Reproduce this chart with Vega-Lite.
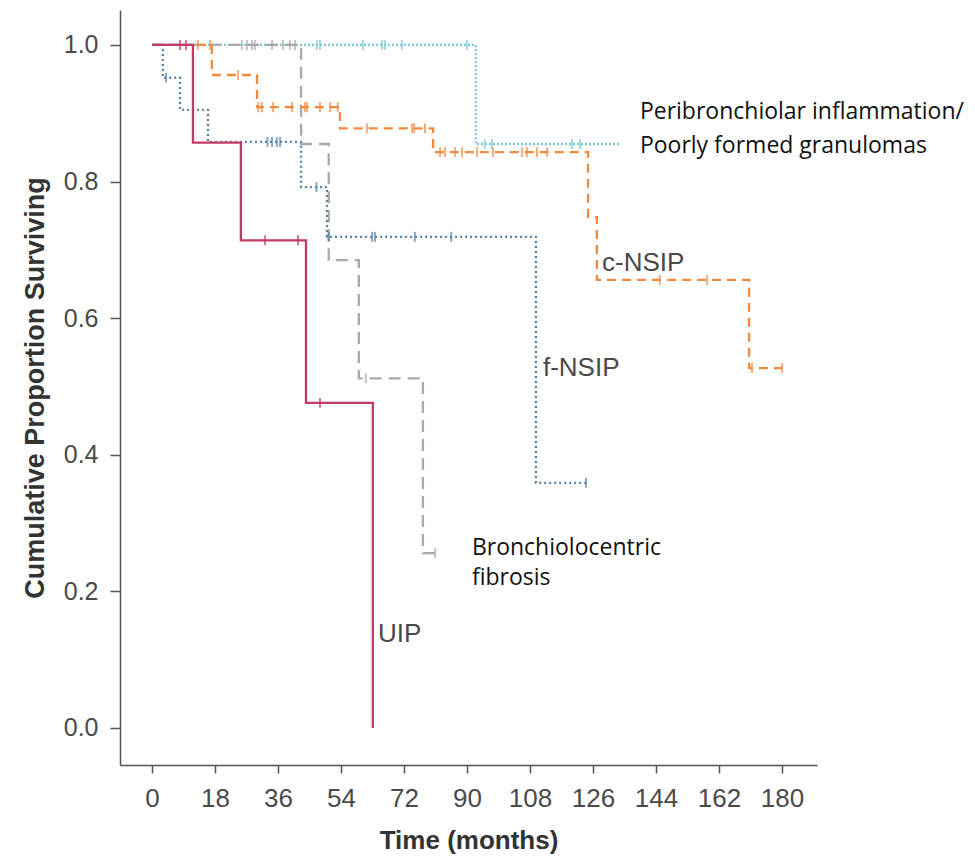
{
  "$schema": "https://vega.github.io/schema/vega-lite/v6.json",
  "width": 697,
  "height": 755,
  "autosize": {"type": "none"},
  "padding": {"left": 120, "top": 10, "right": 158, "bottom": 95},
  "background": "white",
  "config": {"view": {"stroke": null}},
  "datasets": {
    "curves": [
      {"group": "PB", "t": 0, "s": 1},
      {"group": "PB", "t": 92.5, "s": 0.855},
      {"group": "PB", "t": 133.7, "s": 0.855},
      {"group": "BF", "t": 0, "s": 1},
      {"group": "BF", "t": 42.6, "s": 0.855},
      {"group": "BF", "t": 50.5, "s": 0.685},
      {"group": "BF", "t": 59.1, "s": 0.512},
      {"group": "BF", "t": 77.4, "s": 0.256},
      {"group": "BF", "t": 81.4, "s": 0.256},
      {"group": "c-NSIP", "t": 0, "s": 1},
      {"group": "c-NSIP", "t": 17.1, "s": 0.956},
      {"group": "c-NSIP", "t": 30, "s": 0.909},
      {"group": "c-NSIP", "t": 53.7, "s": 0.878},
      {"group": "c-NSIP", "t": 80.3, "s": 0.843},
      {"group": "c-NSIP", "t": 124.6, "s": 0.748},
      {"group": "c-NSIP", "t": 127.1, "s": 0.656},
      {"group": "c-NSIP", "t": 170.6, "s": 0.527},
      {"group": "c-NSIP", "t": 180, "s": 0.527},
      {"group": "f-NSIP", "t": 0, "s": 1},
      {"group": "f-NSIP", "t": 3.1, "s": 0.952},
      {"group": "f-NSIP", "t": 8, "s": 0.905},
      {"group": "f-NSIP", "t": 16, "s": 0.858},
      {"group": "f-NSIP", "t": 42.6, "s": 0.792},
      {"group": "f-NSIP", "t": 50, "s": 0.719},
      {"group": "f-NSIP", "t": 109.7, "s": 0.359},
      {"group": "f-NSIP", "t": 124, "s": 0.359},
      {"group": "UIP", "t": 0, "s": 1},
      {"group": "UIP", "t": 11.7, "s": 0.857},
      {"group": "UIP", "t": 25.4, "s": 0.714},
      {"group": "UIP", "t": 44, "s": 0.476},
      {"group": "UIP", "t": 63.1, "s": 0}
    ],
    "censor": [
      {"group": "PB", "t": 47.1, "s": 1},
      {"group": "PB", "t": 48, "s": 1},
      {"group": "PB", "t": 60.3, "s": 1},
      {"group": "PB", "t": 65.7, "s": 1},
      {"group": "PB", "t": 66.6, "s": 1},
      {"group": "PB", "t": 71.4, "s": 1},
      {"group": "PB", "t": 90, "s": 1},
      {"group": "PB", "t": 95.1, "s": 0.855},
      {"group": "PB", "t": 97.1, "s": 0.855},
      {"group": "PB", "t": 120, "s": 0.855},
      {"group": "PB", "t": 122.3, "s": 0.855},
      {"group": "BF", "t": 25.7, "s": 1},
      {"group": "BF", "t": 27.1, "s": 1},
      {"group": "BF", "t": 28.6, "s": 1},
      {"group": "BF", "t": 29.4, "s": 1},
      {"group": "BF", "t": 34.3, "s": 1},
      {"group": "BF", "t": 37.4, "s": 1},
      {"group": "BF", "t": 39.4, "s": 1},
      {"group": "BF", "t": 40.9, "s": 1},
      {"group": "BF", "t": 61.1, "s": 0.512},
      {"group": "BF", "t": 80.9, "s": 0.256},
      {"group": "c-NSIP", "t": 13.1, "s": 1},
      {"group": "c-NSIP", "t": 16.6, "s": 1},
      {"group": "c-NSIP", "t": 24.6, "s": 0.956},
      {"group": "c-NSIP", "t": 30.4, "s": 0.909},
      {"group": "c-NSIP", "t": 31.4, "s": 0.909},
      {"group": "c-NSIP", "t": 34.6, "s": 0.909},
      {"group": "c-NSIP", "t": 40, "s": 0.909},
      {"group": "c-NSIP", "t": 43.7, "s": 0.909},
      {"group": "c-NSIP", "t": 44.3, "s": 0.909},
      {"group": "c-NSIP", "t": 48, "s": 0.909},
      {"group": "c-NSIP", "t": 50.9, "s": 0.909},
      {"group": "c-NSIP", "t": 53.1, "s": 0.909},
      {"group": "c-NSIP", "t": 61.4, "s": 0.878},
      {"group": "c-NSIP", "t": 74.3, "s": 0.878},
      {"group": "c-NSIP", "t": 74.9, "s": 0.878},
      {"group": "c-NSIP", "t": 78, "s": 0.878},
      {"group": "c-NSIP", "t": 82.3, "s": 0.843},
      {"group": "c-NSIP", "t": 83.7, "s": 0.843},
      {"group": "c-NSIP", "t": 86.6, "s": 0.843},
      {"group": "c-NSIP", "t": 88.6, "s": 0.843},
      {"group": "c-NSIP", "t": 92.9, "s": 0.843},
      {"group": "c-NSIP", "t": 97.4, "s": 0.843},
      {"group": "c-NSIP", "t": 105.7, "s": 0.843},
      {"group": "c-NSIP", "t": 107.1, "s": 0.843},
      {"group": "c-NSIP", "t": 110, "s": 0.843},
      {"group": "c-NSIP", "t": 112.9, "s": 0.843},
      {"group": "c-NSIP", "t": 145.1, "s": 0.656},
      {"group": "c-NSIP", "t": 158.6, "s": 0.656},
      {"group": "c-NSIP", "t": 171.4, "s": 0.527},
      {"group": "c-NSIP", "t": 180, "s": 0.527},
      {"group": "f-NSIP", "t": 4, "s": 0.952},
      {"group": "f-NSIP", "t": 33, "s": 0.858},
      {"group": "f-NSIP", "t": 34.3, "s": 0.858},
      {"group": "f-NSIP", "t": 35.7, "s": 0.858},
      {"group": "f-NSIP", "t": 36.6, "s": 0.858},
      {"group": "f-NSIP", "t": 47, "s": 0.792},
      {"group": "f-NSIP", "t": 50.5, "s": 0.719},
      {"group": "f-NSIP", "t": 62.9, "s": 0.719},
      {"group": "f-NSIP", "t": 63.7, "s": 0.719},
      {"group": "f-NSIP", "t": 75.1, "s": 0.719},
      {"group": "f-NSIP", "t": 85.5, "s": 0.719},
      {"group": "f-NSIP", "t": 124, "s": 0.359},
      {"group": "UIP", "t": 8, "s": 1},
      {"group": "UIP", "t": 9.7, "s": 1},
      {"group": "UIP", "t": 32.3, "s": 0.714},
      {"group": "UIP", "t": 41.7, "s": 0.714},
      {"group": "UIP", "t": 48, "s": 0.476}
    ],
    "notes": [
      {"label": "Peribronchiolar inflammation/", "t": 139.4, "s": 0.902},
      {"label": "Poorly formed granulomas", "t": 139.4, "s": 0.852},
      {"label": "Bronchiolocentric", "t": 91.4, "s": 0.264},
      {"label": "fibrosis", "t": 91.4, "s": 0.219}
    ],
    "series": [
      {"label": "c-NSIP", "t": 128.6, "s": 0.681},
      {"label": "f-NSIP", "t": 111.7, "s": 0.527},
      {"label": "UIP", "t": 64.6, "s": 0.138}
    ]
  },
  "encoding": {
    "x": {
      "field": "t",
      "type": "quantitative",
      "scale": {"domain": [-9.14, 190], "nice": false, "zero": false},
      "axis": {
        "title": "Time (months)",
        "values": [0, 18, 36, 54, 72, 90, 108, 126, 144, 162, 180],
        "grid": false,
        "domainColor": "#555555",
        "domainWidth": 1.5,
        "tickColor": "#555555",
        "tickWidth": 1.5,
        "tickSize": 8,
        "labelFont": "Liberation Sans",
        "labelFontSize": 26,
        "labelColor": "#4a4a4a",
        "labelPadding": 12,
        "titleFont": "Liberation Sans",
        "titleFontSize": 26,
        "titleFontWeight": "bold",
        "titleColor": "#333333",
        "titlePadding": 16
      }
    },
    "y": {
      "field": "s",
      "type": "quantitative",
      "scale": {"domain": [-0.0542, 1.0512], "nice": false, "zero": false},
      "axis": {
        "title": "Cumulative Proportion Surviving",
        "values": [0, 0.2, 0.4, 0.6, 0.8, 1.0],
        "format": ".1f",
        "grid": false,
        "domainColor": "#555555",
        "domainWidth": 1.5,
        "tickColor": "#555555",
        "tickWidth": 1.5,
        "tickSize": 10,
        "labelFont": "Liberation Sans",
        "labelFontSize": 25,
        "labelColor": "#4a4a4a",
        "labelPadding": 12,
        "titleFont": "Liberation Sans",
        "titleFontSize": 27,
        "titleFontWeight": "bold",
        "titleColor": "#333333",
        "titlePadding": 14
      }
    }
  },
  "layer": [
    {
      "data": {"name": "curves"},
      "mark": {"type": "line", "interpolate": "step-after", "strokeWidth": 2.3},
      "encoding": {
        "color": {
          "field": "group",
          "type": "nominal",
          "legend": null,
          "scale": {
            "domain": ["PB", "BF", "c-NSIP", "f-NSIP", "UIP"],
            "range": ["#7ccad6", "#a9a9a9", "#f08a3e", "#5385ab", "#c33a63"]
          }
        },
        "strokeDash": {
          "field": "group",
          "type": "nominal",
          "legend": null,
          "scale": {
            "domain": ["PB", "BF", "c-NSIP", "f-NSIP", "UIP"],
            "range": [[2, 2], [12, 7], [9, 6], [2, 3], [1, 0]]
          }
        }
      }
    },
    {
      "data": {"name": "censor"},
      "mark": {"type": "tick", "orient": "vertical", "size": 10, "thickness": 2},
      "encoding": {
        "color": {"field": "group", "type": "nominal", "legend": null}
      }
    },
    {
      "data": {"name": "notes"},
      "mark": {"type": "text", "align": "left", "baseline": "middle", "font": "Open Sans", "fontSize": 23, "color": "#111111"},
      "encoding": {"text": {"field": "label"}}
    },
    {
      "data": {"name": "series"},
      "mark": {"type": "text", "align": "left", "baseline": "middle", "font": "Liberation Sans", "fontSize": 26, "color": "#4a4a4a"},
      "encoding": {"text": {"field": "label"}}
    }
  ]
}
